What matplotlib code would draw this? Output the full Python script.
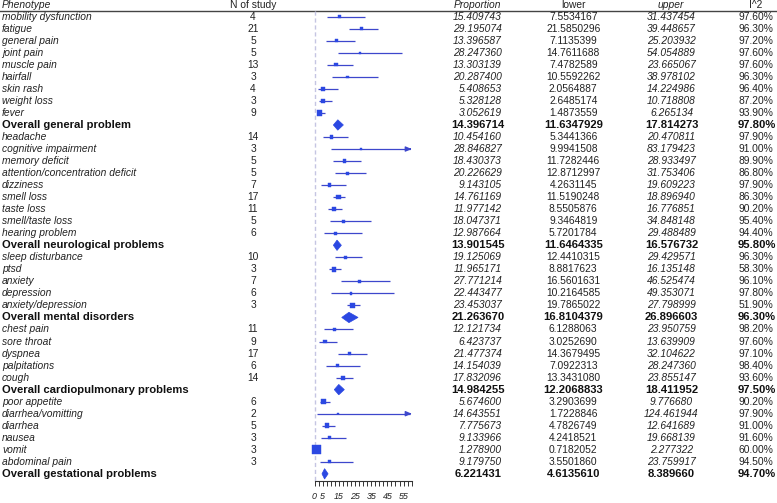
import numpy as np
import matplotlib.pyplot as plt
from matplotlib.patches import Polygon

plt.rcParams['font.family'] = ['Liberation Sans', 'DejaVu Sans']

labels = ['mobility dysfunction', 'fatigue', 'general pain', 'joint pain', 'muscle pain',
          'hairfall', 'skin rash', 'weight loss', 'fever', 'Overall general problem',
          'headache', 'cognitive impairment', 'memory deficit', 'attention/concentration deficit',
          'dizziness', 'smell loss', 'taste loss', 'smell/taste loss', 'hearing problem',
          'Overall neurological problems',
          'sleep disturbance', 'ptsd', 'anxiety', 'depression', 'anxiety/depression',
          'Overall mental disorders',
          'chest pain', 'sore throat', 'dyspnea', 'palpitations', 'cough',
          'Overall cardiopulmonary problems',
          'poor appetite', 'diarrhea/vomitting', 'diarrhea', 'nausea', 'vomit', 'abdominal pain',
          'Overall gestational problems']

n_study = [4, 21, 5, 5, 13, 3, 4, 3, 9, None,
           14, 3, 5, 5, 7, 17, 11, 5, 6, None,
           10, 3, 7, 6, 3, None,
           11, 9, 17, 6, 14, None,
           6, 2, 5, 3, 3, 3, None]

proportion = [15.409743, 29.195074, 13.396587, 28.247360, 13.303139, 20.287400, 5.408653, 5.328128,
              3.052619, 14.396714,
              10.454160, 28.846827, 18.430373, 20.226629, 9.143105, 14.761169, 11.977142, 18.047371,
              12.987664, 13.901545,
              19.125069, 11.965171, 27.771214, 22.443477, 23.453037, 21.263670,
              12.121734, 6.423737, 21.477374, 14.154039, 17.832096, 14.984255,
              5.674600, 14.643551, 7.775673, 9.133966, 1.278900, 9.179750, 6.221431]

lower = [7.5534167, 21.5850296, 7.1135399, 14.7611688, 7.4782589, 10.5592262, 2.0564887, 2.6485174,
         1.4873559, 11.6347929,
         5.3441366, 9.9941508, 11.7282446, 12.8712997, 4.2631145, 11.5190248, 8.5505876, 9.3464819,
         5.7201784, 11.6464335,
         12.4410315, 8.8817623, 16.5601631, 10.2164585, 19.7865022, 16.8104379,
         6.1288063, 3.0252690, 14.3679495, 7.0922313, 13.3431080, 12.2068833,
         3.2903699, 1.7228846, 4.7826749, 4.2418521, 0.7182052, 3.5501860, 4.6135610]

upper = [31.437454, 39.448657, 25.203932, 54.054889, 23.665067, 38.978102, 14.224986, 10.718808,
         6.265134, 17.814273,
         20.470811, 83.179423, 28.933497, 31.753406, 19.609223, 18.896940, 16.776851, 34.848148,
         29.488489, 16.576732,
         29.429571, 16.135148, 46.525474, 49.353071, 27.798999, 26.896603,
         23.950759, 13.639909, 32.104622, 28.247360, 23.855147, 18.411952,
         9.776680, 124.461944, 12.641689, 19.668139, 2.277322, 23.759917, 8.389660]

i2 = [97.60, 96.30, 97.20, 97.60, 97.60, 96.30, 96.40, 87.20, 93.90, 97.80,
      97.90, 91.00, 89.90, 86.80, 97.90, 86.30, 90.20, 95.40, 94.40, 95.80,
      96.30, 58.30, 96.10, 97.80, 51.90, 96.30,
      98.20, 97.60, 97.10, 98.40, 93.60, 97.50,
      90.20, 97.90, 91.00, 91.60, 60.00, 94.50, 94.70]

headers = ['Phenotype', 'N of study', 'Proportion', 'lower', 'upper', 'I^2']
tick_vals = np.arange(0, 60.1, 2.5)
tick_shown = [0, 5, 15, 25, 35, 45, 55]

W, H = 777, 503
XMIN, XMAX = -2.5, 60
PX0, PXU = 314.5, 1.62          # pixel of x=0 and pixels per unit
ROW0, ROWH = 16.7, 12.03        # pixel of first row and row height

prop = np.array(proportion)
lo = np.array(lower)
up = np.array(upper)
rows = np.arange(len(labels))
is_sum = np.array([n is None for n in n_study])

ylim = ((H - ROW0) / ROWH, -ROW0 / ROWH)
TXT = '#222222'
BLUE = '#2b48e2'
LINE = '#3d47cc'

fig = plt.figure(figsize=(W / 100, H / 100), dpi=100)

# text table
ax = fig.add_axes([0, 0, 1, 1])
ax.set_xlim(0, W)
ax.set_ylim(*ylim)
ax.axis('off')

fs, fsb = 7.4, 8.1
ax.axhline(-0.5, color='#444444', lw=1.0)
ax.text(2, -1, headers[0], ha='left', va='center', fontsize=fs, style='italic', color=TXT)
ax.text(253, -1, headers[1], ha='center', va='center', fontsize=fs, color=TXT)
ax.text(477.5, -1, headers[2], ha='center', va='center', fontsize=fs, style='italic', color=TXT)
ax.text(574, -1, headers[3], ha='center', va='center', fontsize=fs, color=TXT)
ax.text(671, -1, headers[4], ha='center', va='center', fontsize=fs, style='italic', color=TXT)
ax.text(756, -1, headers[5], ha='center', va='center', fontsize=fs, color=TXT)

for r in rows:
    if is_sum[r]:
        kw = dict(va='center', fontsize=fsb, fontweight='bold', color='#111111')
        ax.text(2, r, labels[r], ha='left', **kw)
        ax.text(478, r, '%.6f' % proportion[r], ha='center', **kw)
        ax.text(573.5, r, '%.7f' % lower[r], ha='center', **kw)
        ax.text(671.5, r, '%.6f' % upper[r], ha='center', **kw)
        ax.text(756.5, r, '%.2f%%' % i2[r], ha='center', **kw)
    else:
        kw = dict(va='center', fontsize=fs, color=TXT)
        ax.text(2, r, labels[r], ha='left', style='italic', **kw)
        ax.text(253, r, str(n_study[r]), ha='center', **kw)
        ax.text(501.7, r, '%.6f' % proportion[r], ha='right', style='italic', **kw)
        ax.text(573.3, r, '%.7f' % lower[r], ha='center', **kw)
        ax.text(671.5, r, '%.6f' % upper[r], ha='center', style='italic', **kw)
        ax.text(756, r, '%.2f%%' % i2[r], ha='center', **kw)

# forest panel
left_px = PX0 + XMIN * PXU
right_px = PX0 + XMAX * PXU
fax = fig.add_axes([left_px / W, 0, (right_px - left_px) / W, 1])
fax.set_xlim(XMIN, XMAX)
fax.set_ylim(*ylim)
fax.patch.set_visible(False)
for s in ['top', 'left', 'right']:
    fax.spines[s].set_visible(False)
axis_row = (480.7 - ROW0) / ROWH
fax.spines['bottom'].set_position(('data', axis_row))
fax.spines['bottom'].set_bounds(0, 60)
fax.spines['bottom'].set_color('#333333')
fax.spines['bottom'].set_linewidth(0.8)
fax.set_yticks([])
fax.set_xticks(tick_vals)
fax.set_xticklabels([('%g' % t) if t in tick_shown else '' for t in tick_vals],
                    fontsize=6.4, style='italic', color=TXT)
fax.tick_params(axis='x', length=3.3, width=0.7, color='#333333', pad=5)

fax.vlines(0, -0.5, axis_row, colors='#c5c5e2', linestyles=(0, (3, 2)), lw=1.0)

ind = ~is_sum
w = 1.0 / (up - lo)
wmax = w[ind].max()
side_px = 8.8 * np.sqrt(w / wmax) + 0.6

for r in rows[ind]:
    if up[r] > XMAX:
        fax.hlines(r, lo[r], XMAX - 0.8, colors=LINE, lw=0.9)
        fax.annotate('', xy=(XMAX, r), xytext=(XMAX - 1.5, r),
                     arrowprops=dict(arrowstyle='-|>,head_length=0.35,head_width=0.15',
                                     color=LINE, lw=0.9, shrinkA=0, shrinkB=0))
    else:
        fax.hlines(r, lo[r], up[r], colors=LINE, lw=0.9)

fax.scatter(prop[ind], rows[ind], marker='s', s=(side_px[ind] * 0.72) ** 2,
            color=BLUE, edgecolors=BLUE, linewidths=0.3, zorder=3, clip_on=False)

for r in rows[is_sum]:
    dia = Polygon([(lo[r], r), (prop[r], r - 0.43), (up[r], r), (prop[r], r + 0.43)],
                  closed=True, facecolor=BLUE, edgecolor=BLUE, lw=0.5, zorder=3)
    fax.add_patch(dia)

fig.savefig('out.png', dpi=100)
